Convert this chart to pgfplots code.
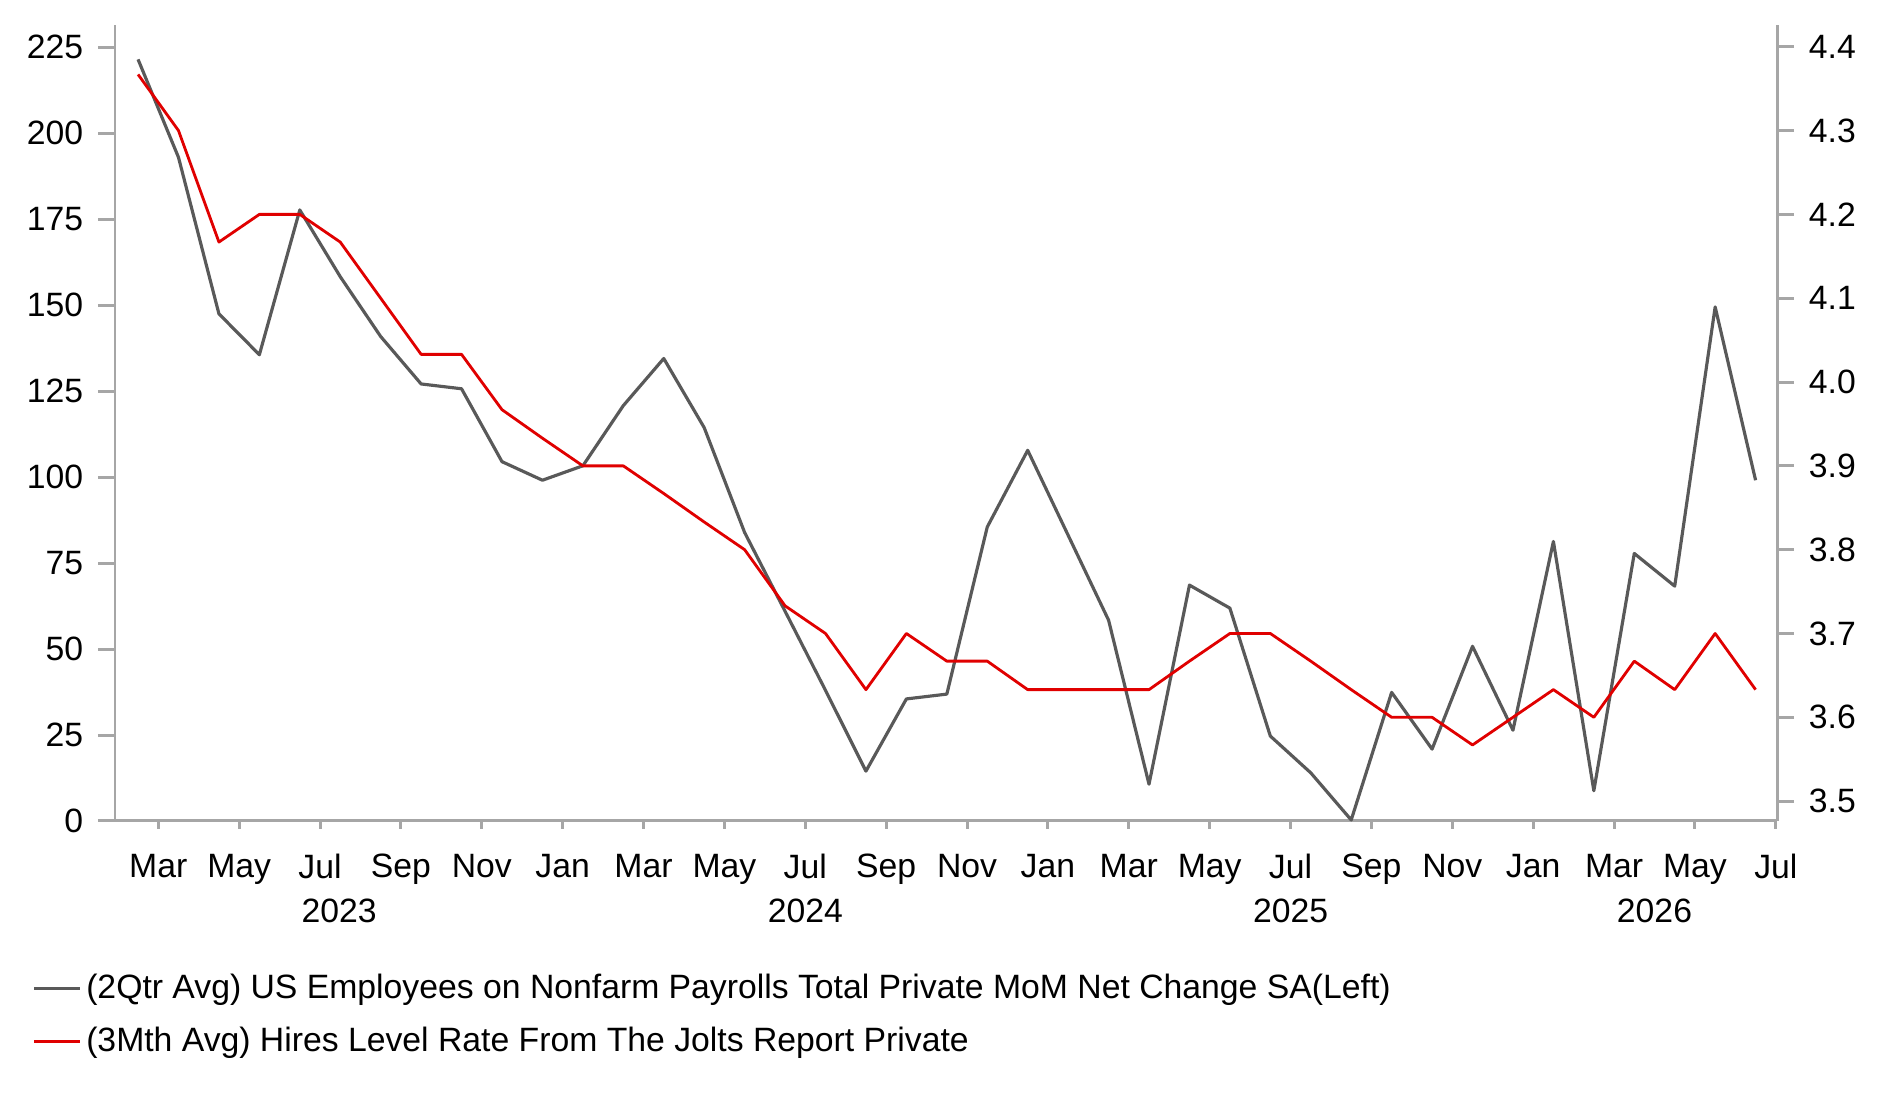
\documentclass[border=0pt]{standalone}
\usepackage{fontspec}
\setmainfont{Liberation Sans}
\usepackage{pgfplots}
\usepackage{pgfplotstable}
\pgfplotsset{compat=1.18}
\definecolor{grayline}{HTML}{595959}
\definecolor{redline}{HTML}{E00000}
\definecolor{axisgray}{HTML}{A6A6A6}

\pgfplotstableread{
x y
1.5 221.5
2.5 193.0
3.5 147.5
4.5 135.6
5.5 177.7
6.5 158.3
7.5 140.9
8.5 127.1
9.5 125.7
10.5 104.5
11.5 99.1
12.5 103.3
13.5 120.8
14.5 134.5
15.5 114.4
16.5 83.9
17.5 61.0
18.5 38.0
19.5 14.5
20.5 35.5
21.5 36.9
22.5 85.5
23.5 107.8
24.5 83.1
25.5 58.4
26.5 10.7
27.5 68.6
28.5 61.9
29.5 24.7
30.5 14.0
31.5 0.3
32.5 37.4
33.5 20.9
34.5 50.8
35.5 26.4
36.5 81.3
37.5 8.8
38.5 77.8
39.5 68.3
40.5 149.5
41.5 99.1
}\payrolls

\pgfplotstableread{
x y
1.5 4.367
2.5 4.300
3.5 4.167
4.5 4.200
5.5 4.200
6.5 4.167
7.5 4.100
8.5 4.033
9.5 4.033
10.5 3.967
11.5 3.933
12.5 3.900
13.5 3.900
14.5 3.867
15.5 3.833
16.5 3.800
17.5 3.733
18.5 3.700
19.5 3.633
20.5 3.700
21.5 3.667
22.5 3.667
23.5 3.633
24.5 3.633
25.5 3.633
26.5 3.633
27.5 3.667
28.5 3.700
29.5 3.700
30.5 3.667
31.5 3.633
32.5 3.600
33.5 3.600
34.5 3.567
35.5 3.600
36.5 3.633
37.5 3.600
38.5 3.667
39.5 3.633
40.5 3.700
41.5 3.633
}\hires

\begin{document}
\fontsize{9.6pt}{11pt}\selectfont
\begin{tikzpicture}
\path[use as bounding box] (0,0) rectangle (18.83cm,11.01cm);
\pgfplotsset{
  common/.style={
    at={(1.15cm,2.80cm)}, anchor=south west,
    scale only axis, width=16.62cm, height=7.96cm,
    xmin=0.93, xmax=42.03,
    clip=false,
    axis line style={axisgray, line width=0.85pt},
    every tick/.style={axisgray, line width=0.85pt},
    tick align=outside,
    ticklabel style={font=\fontsize{9.6pt}{11pt}\selectfont, text=black},
    /pgf/number format/assume math mode=true,
  }
}
\begin{axis}[common,
  axis x line*=bottom, axis y line*=left,
  ymin=0, ymax=231.5,
  ytick={0,25,...,225},
  ytick style={/pgfplots/major tick length=0.17cm},
  yticklabel style={xshift=-0.05cm},
  xtick={2,4,...,42},
  xticklabels={Mar,May,Jul,Sep,Nov,Jan,Mar,May,Jul,Sep,Nov,Jan,Mar,May,Jul,Sep,Nov,Jan,Mar,May,Jul},
  xtick style={/pgfplots/major tick length=0.08cm},
  xticklabel style={yshift=-0.065cm},
  extra x ticks={12,24,36},
  extra x tick labels={},
  extra x tick style={/pgfplots/major tick length=0.17cm},
  legend style={draw=none, fill=none, at={(-0.050,-0.192)}, anchor=north west,
    inner sep=0pt, row sep=0.28cm,
    font=\fontsize{9.6pt}{11pt}\selectfont,
    nodes={inner sep=0pt, text depth=0pt}},
  legend cell align=left,
  legend image code/.code={\draw[#1] (0cm,-0.02cm) -- (0.46cm,-0.02cm);},
]
\addplot[grayline, line width=0.9pt, line join=round] table[x=x,y=y] {\payrolls};
\addlegendentry{\hspace{0.045cm}(2Qtr Avg) US Employees on Nonfarm Payrolls Total Private MoM Net Change SA(Left)}
\addlegendimage{redline, line width=0.8pt}
\addlegendentry{\hspace{0.045cm}(3Mth Avg) Hires Level Rate From The Jolts Report Private}
\node[anchor=base, yshift=-1.02cm] at (axis cs:6.47,0) {2023};
\node[anchor=base, yshift=-1.02cm] at (axis cs:18,0) {2024};
\node[anchor=base, yshift=-1.02cm] at (axis cs:30,0) {2025};
\node[anchor=base, yshift=-1.02cm] at (axis cs:39,0) {2026};
\end{axis}
\begin{axis}[common,
  axis x line=none, axis y line*=right,
  ymin=3.4763, ymax=4.426,
  ytick={3.5,3.6,...,4.41},
  ytick style={/pgfplots/major tick length=0.17cm},
  yticklabel style={xshift=0.05cm, /pgf/number format/fixed, /pgf/number format/fixed zerofill, /pgf/number format/precision=1},
]
\addplot[redline, line width=0.8pt, line join=round] table[x=x,y=y] {\hires};
\end{axis}
\end{tikzpicture}
\end{document}
